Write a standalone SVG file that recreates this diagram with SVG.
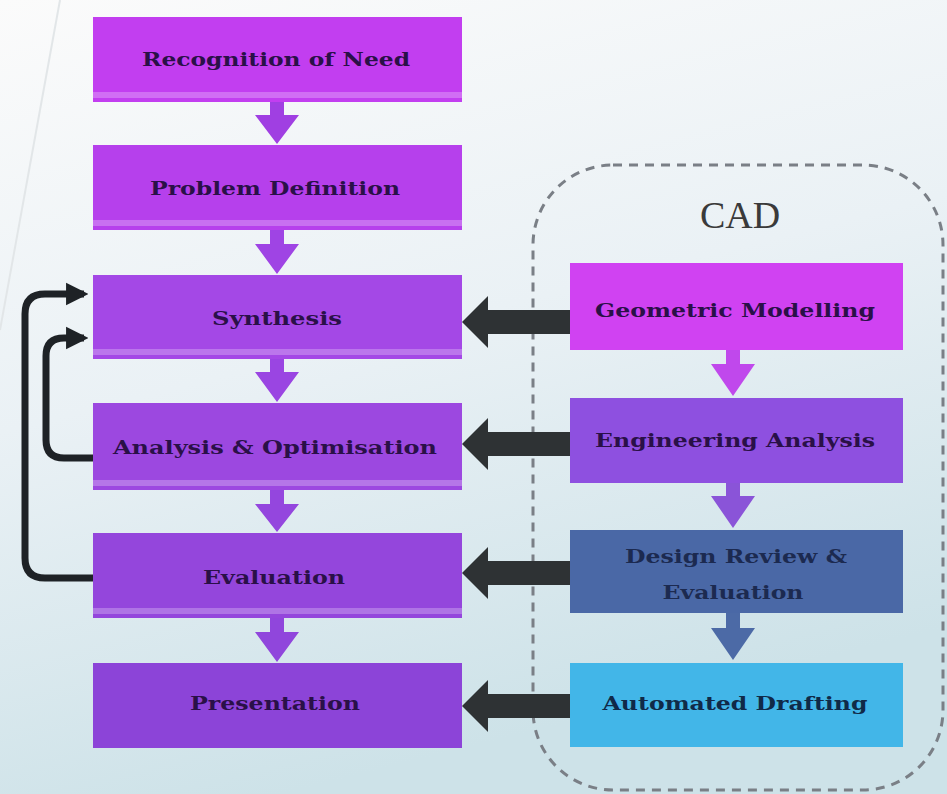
<svg xmlns="http://www.w3.org/2000/svg" width="947" height="794" viewBox="0 0 947 794">
<defs>
<linearGradient id="bg" x1="0" y1="0" x2="0.3" y2="1">
<stop offset="0" stop-color="#fbfbfb"/>
<stop offset="0.5" stop-color="#eaf1f5"/>
<stop offset="1" stop-color="#cde2e8"/>
</linearGradient>
<marker id="fb" viewBox="0 0 10 10" refX="8" refY="5" markerWidth="3.2" markerHeight="3.8" orient="auto" markerUnits="strokeWidth">
<path d="M0,0 L10,5 L0,10 Z" fill="#1e2226"/>
</marker>
<style>
.lbl{font-family:"DejaVu Serif","Liberation Serif",serif;font-weight:bold;font-size:19px;fill:#2a1048;text-anchor:middle}
.band{fill:#ffffff;opacity:0.25}
.fbk{fill:none;stroke:#1e2226;stroke-width:7;stroke-linejoin:round}
.bar{fill:#2e3234}
</style>
</defs>
<rect width="947" height="794" fill="url(#bg)"/>
<path d="M0,330 L60,0" stroke="#e2e6e8" stroke-width="2" fill="none"/>

<g id="cad-group">
<rect x="533" y="165" width="410" height="625" rx="80" ry="80" fill="none" stroke="#7a7f86" stroke-width="3" stroke-dasharray="9,7"/>
<text x="740" y="228" font-family="Liberation Serif, serif" font-size="38" fill="#3a3a3a" text-anchor="middle">CAD</text>
</g>

<g id="connectors">
<!-- left vertical arrows -->
<g fill="#a03fe2">
<path d="M270,102 H284 V115 H299 L277,144 L255,115 H270 Z"/>
<path d="M270,230 H284 V244 H299 L277,274 L255,244 H270 Z" fill="#9f44e4"/>
<path d="M270,358 H284 V372 H299 L277,402 L255,372 H270 Z" fill="#9a45e2"/>
<path d="M270,490 H284 V504 H299 L277,532 L255,504 H270 Z" fill="#9446de"/>
<path d="M270,618 H284 V632 H299 L277,662 L255,632 H270 Z" fill="#9046dc"/>
</g>
<!-- right vertical arrows -->
<path d="M726,350 H740 V364 H755 L733,396 L711,364 H726 Z" fill="#c048ec"/>
<path d="M726,483 H740 V496 H755 L733,528 L711,496 H726 Z" fill="#8a54d8"/>
<path d="M726,613 H740 V628 H755 L733,660 L711,628 H726 Z" fill="#4c6aa6"/>
<!-- CAD to design arrows -->
<path class="bar" d="M570,310 H488 V296 L462,322 L488,348 V334 H570 Z"/>
<path class="bar" d="M570,432 H488 V418 L462,444 L488,470 V456 H570 Z"/>
<path class="bar" d="M570,561 H488 V547 L462,573 L488,599 V585 H570 Z"/>
<path class="bar" d="M570,694 H488 V680 L462,706 L488,732 V718 H570 Z"/>
<!-- feedback loops -->
<path class="fbk" d="M93,578 H45 Q25,578 25,558 V314 Q25,294 45,294 H84" marker-end="url(#fb)"/>
<path class="fbk" d="M93,458 H64 Q46,458 46,440 V356 Q46,338 64,338 H84" marker-end="url(#fb)"/>
</g>

<g id="n-recognition">
<rect x="93" y="17" width="369" height="85" fill="#c23ef0"/>
<rect class="band" x="93" y="92" width="369" height="6"/>
<text class="lbl" x="276" y="66" textLength="268" lengthAdjust="spacingAndGlyphs">Recognition of Need</text>
</g>
<g id="n-problem">
<rect x="93" y="145" width="369" height="85" fill="#b640ec"/>
<rect class="band" x="93" y="220" width="369" height="6"/>
<text class="lbl" x="275" y="195" textLength="250" lengthAdjust="spacingAndGlyphs">Problem Definition</text>
</g>
<g id="n-synthesis">
<rect x="93" y="275" width="369" height="84" fill="#a448e6"/>
<rect class="band" x="93" y="349" width="369" height="6"/>
<text class="lbl" x="277" y="325" textLength="130" lengthAdjust="spacingAndGlyphs">Synthesis</text>
</g>
<g id="n-analysis">
<rect x="93" y="403" width="369" height="87" fill="#9c48e0"/>
<rect class="band" x="93" y="480" width="369" height="6"/>
<text class="lbl" x="275" y="454" textLength="324" lengthAdjust="spacingAndGlyphs">Analysis &amp; Optimisation</text>
</g>
<g id="n-evaluation">
<rect x="93" y="533" width="369" height="85" fill="#9446dc"/>
<rect class="band" x="93" y="608" width="369" height="6"/>
<text class="lbl" x="274" y="584" textLength="142" lengthAdjust="spacingAndGlyphs">Evaluation</text>
</g>
<g id="n-presentation">
<rect x="93" y="663" width="369" height="85" fill="#8c44d8"/>
<text class="lbl" x="275" y="710" textLength="170" lengthAdjust="spacingAndGlyphs">Presentation</text>
</g>

<g id="n-geometric">
<rect x="570" y="263" width="333" height="87" fill="#d042f2"/>
<text class="lbl" x="735" y="317" textLength="280" lengthAdjust="spacingAndGlyphs">Geometric Modelling</text>
</g>
<g id="n-engineering">
<rect x="570" y="398" width="333" height="85" fill="#8e50e0"/>
<text class="lbl" x="735" y="447" textLength="280" lengthAdjust="spacingAndGlyphs">Engineering Analysis</text>
</g>
<g id="n-design-review">
<rect x="570" y="530" width="333" height="83" fill="#4a68a6"/>
<text class="lbl" x="736" y="563" fill="#1c2a50" style="fill:#1c2a50" textLength="222" lengthAdjust="spacingAndGlyphs">Design Review &amp;</text>
<text class="lbl" x="733" y="599" style="fill:#1c2a50" textLength="141" lengthAdjust="spacingAndGlyphs">Evaluation</text>
</g>
<g id="n-drafting">
<rect x="570" y="663" width="333" height="84" fill="#42b6e8"/>
<text class="lbl" x="735" y="710" style="fill:#102a48" textLength="265" lengthAdjust="spacingAndGlyphs">Automated Drafting</text>
</g>
</svg>
